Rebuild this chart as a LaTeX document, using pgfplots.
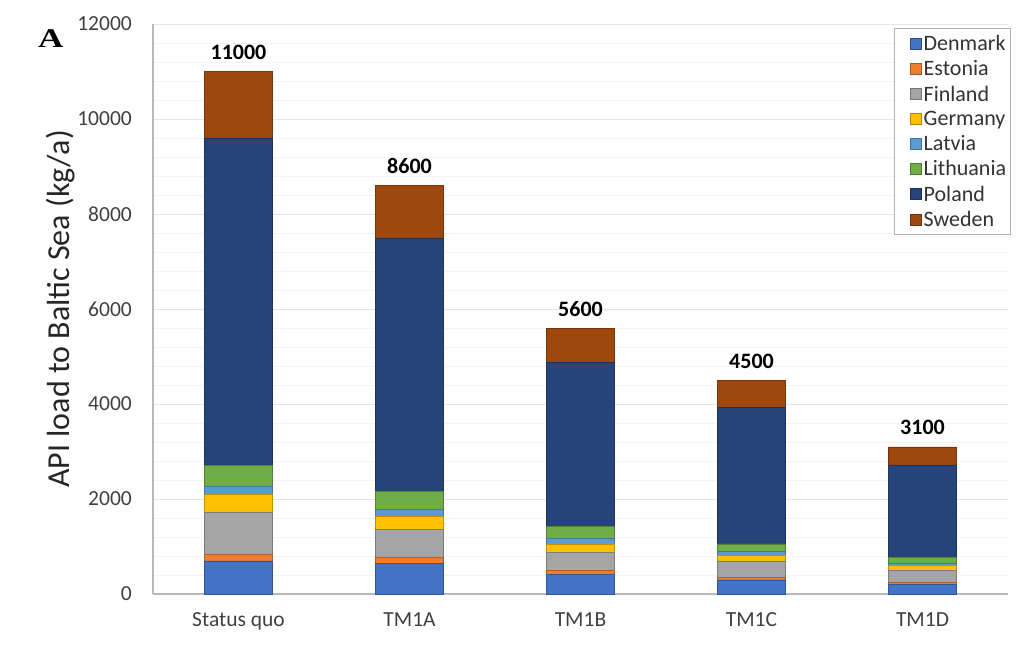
\documentclass[border=0pt]{standalone}
\usepackage{fontspec}
\setmainfont{Carlito}
\newfontfamily\serifA{Liberation Serif}
\usepackage{graphicx}
\usepackage{pgfplots}
\pgfplotsset{compat=1.18}
\definecolor{cDen}{HTML}{4472C4}
\definecolor{cEst}{HTML}{ED7D31}
\definecolor{cFin}{HTML}{A5A5A5}
\definecolor{cGer}{HTML}{FFC000}
\definecolor{cLat}{HTML}{5B9BD5}
\definecolor{cLit}{HTML}{70AD47}
\definecolor{cPol}{HTML}{264478}
\definecolor{cSwe}{HTML}{9E480E}
\pgfplotsset{
  mybar/.style={fill=#1, draw=#1!75!black, line width=0.5pt,
    legend image code/.code={\path (-14pt,0pt); \draw[fill=#1, draw=#1!70!black, line width=0.6pt] (0pt,-5.5pt) rectangle (11pt,5.5pt);}},
}
\begin{document}
\begin{tikzpicture}
\path[use as bounding box] (-153pt,-55pt) rectangle (869pt,594pt);
\begin{axis}[
  at={(0pt,0pt)}, anchor=south west,
  scale only axis, width=855pt, height=570pt,
  xmin=-0.5, xmax=4.5, ymin=0, ymax=12000,
  ybar stacked, bar width=68pt,
  xtick={0,1,2,3,4},
  xticklabels={Status quo,TM1A,TM1B,TM1C,TM1D},
  ytick={0,2000,4000,6000,8000,10000,12000},
  minor y tick num=4,
  ymajorgrids, yminorgrids,
  major grid style={gray!20, line width=0.8pt},
  minor grid style={gray!9, line width=0.6pt},
  axis x line*=bottom, axis y line*=left,
  axis line style={gray!55, line width=1.3pt, -},
  major tick length=0pt, minor tick length=0pt,
  scaled y ticks=false,
  /pgf/number format/1000 sep={},
  /pgf/number format/assume math mode=true,
  tick label style={font=\fontsize{21.5}{24}\selectfont, text=black!75},
  yticklabel style={anchor=east, inner sep=0pt, xshift=-21pt},
  xticklabel style={anchor=north, inner sep=0pt, yshift=-18pt},
  every axis y label/.style={at={(axis description cs:-0.108,0.5)}, rotate=90, anchor=center,
    font=\fontsize{32}{36}\selectfont, text=black!85},
  ylabel={API load to Baltic Sea (kg/a)},
  legend style={at={(rel axis cs:1.003,0.993)}, anchor=north east,
    draw=gray!60, line width=0.8pt, font=\fontsize{22}{25}\selectfont,
    text=black!80, inner xsep=2pt, inner ysep=5pt, row sep=4.5pt, legend cell align=left},
  legend cell align=left,
]
\addplot[mybar=cDen] coordinates {(0,700) (1,646) (2,421) (3,295) (4,204)};
\addplot[mybar=cEst] coordinates {(0,140) (1,118) (2,84) (3,57) (4,48)};
\addplot[mybar=cFin] coordinates {(0,890) (1,598) (2,373) (3,343) (4,238)};
\addplot[mybar=cGer] coordinates {(0,370) (1,265) (2,175) (3,112) (4,120)};
\addplot[mybar=cLat] coordinates {(0,175) (1,162) (2,120) (3,93) (4,48)};
\addplot[mybar=cLit] coordinates {(0,435) (1,365) (2,245) (3,154) (4,112)};
\addplot[mybar=cPol] coordinates {(0,6890) (1,5346) (2,3452) (3,2876) (4,1946)};
\addplot[mybar=cSwe] coordinates {(0,1400) (1,1100) (2,730) (3,570) (4,384)};
\addplot[draw=none, fill=none, forget plot, nodes near coords, point meta=explicit symbolic,
  every node near coord/.append style={font=\bfseries\fontsize{22}{24}\selectfont, text=black, yshift=19pt}]
  coordinates {(0,1) [11000] (1,1) [8600] (2,1) [5600] (3,1) [4500] (4,1) [3100]};
\legend{Denmark,Estonia,Finland,Germany,Latvia,Lithuania,Poland,Sweden}
\end{axis}
\node[anchor=base west, inner sep=0pt, font=\serifA\bfseries\fontsize{27}{27}\selectfont] at (-115pt,546pt) {\scalebox{1.3}[1]{A}};
\end{tikzpicture}
\end{document}
